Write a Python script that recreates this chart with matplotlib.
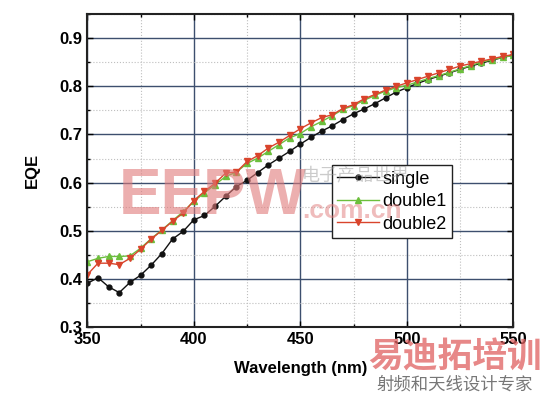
import numpy as np
import matplotlib
matplotlib.use('Agg')
import matplotlib.pyplot as plt
from matplotlib.ticker import MultipleLocator

plt.rcParams['font.family'] = ['Liberation Sans', 'DejaVu Sans']

wavelength = list(range(350, 555, 5))

single = [0.391, 0.403, 0.384, 0.372, 0.393, 0.408, 0.429, 0.453, 0.483, 0.499,
          0.523, 0.532, 0.551, 0.572, 0.592, 0.605, 0.621, 0.637, 0.651, 0.665,
          0.680, 0.694, 0.707, 0.718, 0.731, 0.743, 0.753, 0.764, 0.776, 0.788,
          0.797, 0.806, 0.814, 0.821, 0.828, 0.835, 0.842, 0.848, 0.854, 0.860,
          0.865]
double1 = [0.436, 0.443, 0.447, 0.447, 0.448, 0.464, 0.484, 0.502, 0.521, 0.540,
           0.561, 0.579, 0.596, 0.613, 0.622, 0.640, 0.651, 0.665, 0.679, 0.693,
           0.702, 0.716, 0.727, 0.739, 0.752, 0.760, 0.771, 0.781, 0.790, 0.797,
           0.802, 0.809, 0.816, 0.822, 0.829, 0.836, 0.843, 0.850, 0.855, 0.860,
           0.864]
double2 = [0.409, 0.433, 0.433, 0.430, 0.443, 0.462, 0.483, 0.501, 0.520, 0.537,
           0.563, 0.582, 0.599, 0.620, 0.622, 0.644, 0.656, 0.672, 0.684, 0.698,
           0.712, 0.724, 0.735, 0.741, 0.754, 0.762, 0.774, 0.783, 0.792, 0.800,
           0.807, 0.814, 0.821, 0.828, 0.835, 0.842, 0.847, 0.852, 0.857, 0.862,
           0.866]

fig = plt.figure(figsize=(5.54, 3.94), dpi=100)
ax = fig.add_axes([0.1576, 0.1693, 0.769, 0.7952])

ax.plot(wavelength, single, '-o', color='#111111', lw=1, ms=3.5, label='single')
ax.plot(wavelength, double1, '-^', color='#6cbf3c', lw=1, ms=4, label='double1')
ax.plot(wavelength, double2, '-v', color='#d9442c', lw=1, ms=4, label='double2')

ax.set_xlim(350, 550)
ax.set_ylim(0.3, 0.95)
ax.xaxis.set_major_locator(MultipleLocator(50))
ax.xaxis.set_minor_locator(MultipleLocator(25))
ax.yaxis.set_major_locator(MultipleLocator(0.1))
ax.yaxis.set_minor_locator(MultipleLocator(0.05))

ax.grid(which='major', color='#3d4f6e', lw=1.0, ls='-')
ax.grid(which='minor', color='#bfbfbf', lw=0.8, ls=':')
ax.set_axisbelow(True)

ax.tick_params(which='both', direction='in', top=True, right=True)
ax.tick_params(which='major', length=4, width=1, labelsize=12)
ax.tick_params(which='minor', length=2.5, width=1)
for lab in ax.get_xticklabels() + ax.get_yticklabels():
    lab.set_fontweight('bold')
for sp in ax.spines.values():
    sp.set_linewidth(1.5)
    sp.set_color('#222222')

ax.set_xlabel('Wavelength (nm)', fontsize=12, fontweight='bold', labelpad=10)
ax.set_ylabel('EQE', fontsize=12, fontweight='bold', labelpad=14)

leg = ax.legend(loc='lower left', bbox_to_anchor=(0.574, 0.285), fontsize=13,
                frameon=True, fancybox=False, edgecolor='#222222',
                handlelength=2.3, handletextpad=0.2, borderpad=0.3,
                labelspacing=0.3, borderaxespad=0)
leg.get_frame().set_linewidth(1.0)
leg.get_frame().set_alpha(1)

# watermarks
fig.text(0.215, 0.50, 'EEPW', fontsize=46, fontweight='bold', color='#e07a7a',
         alpha=0.6, va='center')
fig.text(0.545, 0.555, '电子产品世界', fontsize=13, color='#999999', alpha=0.5,
         family=['Noto Sans CJK SC', 'DejaVu Sans'], va='center')
fig.text(0.545, 0.465, '.com.cn', fontsize=19, fontweight='bold', color='#e07a7a',
         alpha=0.5, va='center')
fig.text(0.665, 0.095, '易迪拓培训', fontsize=25, fontweight='bold', color='#e06060',
         alpha=0.75, family=['Noto Sans CJK SC', 'DejaVu Sans'], va='center')
fig.text(0.68, 0.025, '射频和天线设计专家', fontsize=12.5, color='#777777',
         family=['Noto Sans CJK SC', 'DejaVu Sans'], va='center')

fig.savefig('out.png', dpi=100)
